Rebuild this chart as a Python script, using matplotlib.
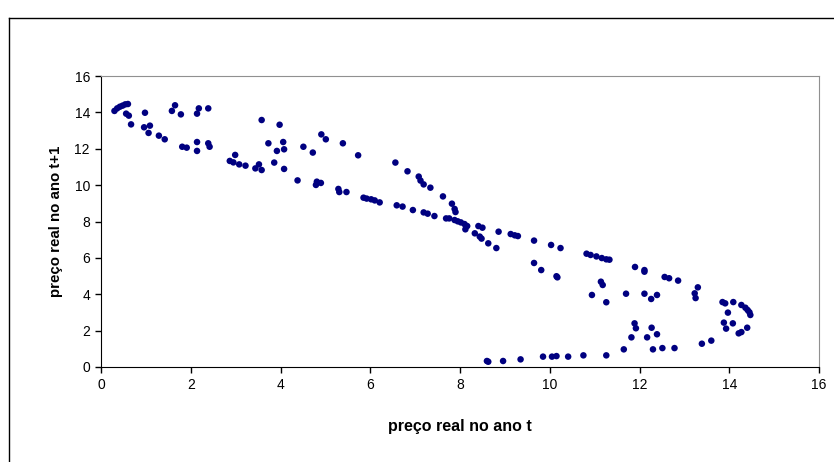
import matplotlib.pyplot as plt
from matplotlib.lines import Line2D

# values
preco_t = [
    0.30, 0.36, 0.42, 0.48, 0.54, 0.60, 0.56, 0.62, 0.67, 0.98, 0.96, 1.09, 1.06, 1.29, 1.42,
    1.58, 1.65, 1.78, 1.81, 1.91, 2.14, 2.18, 2.39, 2.14, 2.14, 2.39, 2.42,
    2.87, 2.95, 2.99, 3.08, 3.22, 3.44, 3.52, 3.58, 3.58, 3.73, 3.86, 3.92, 3.98, 4.06, 4.08, 4.08,
    4.38, 4.51, 4.72, 4.79, 4.81, 4.90, 4.91, 5.01, 5.29, 5.31, 5.39, 5.47, 5.73,
    5.85, 5.92, 6.02, 6.10, 6.21, 6.56, 6.59, 6.72, 6.83, 6.95, 7.08, 7.12, 7.19, 7.19, 7.28, 7.34,
    7.43, 7.62, 7.69, 7.76, 7.82, 7.88, 7.90, 7.88, 7.95, 8.02, 8.10, 8.16, 8.12,
    8.41, 8.50, 8.33, 8.44, 8.48, 8.63, 8.81, 8.86, 9.13, 9.22, 9.29, 9.65, 10.03, 10.24,
    9.65, 9.81, 10.15, 10.17, 10.82, 10.91, 11.04, 11.16, 11.26, 11.33, 11.14, 11.18, 10.94, 11.26,
    11.90, 12.11, 12.11, 12.56, 12.66, 12.86, 11.70, 12.11, 12.26, 12.39, 13.23, 13.25, 13.30,
    13.85, 13.91, 14.09, 13.97, 14.27, 14.36, 14.41, 14.45, 14.47, 13.88, 14.08, 13.93, 14.40,
    14.21, 14.27, 11.89, 11.92, 12.27, 12.39, 11.82, 12.17, 11.65, 12.30, 12.51, 12.78,
    13.39, 13.60, 11.26, 10.75, 10.41, 10.15, 10.05, 9.85, 9.35, 8.96, 8.60, 8.63,
]
preco_t1 = [
    14.08, 14.22, 14.31, 14.37, 14.44, 14.46, 13.93, 13.82, 13.34, 13.98, 13.18, 13.27, 12.87, 12.72, 12.52,
    14.08, 14.39, 13.89, 12.11, 12.06, 13.93, 14.22, 14.22, 12.37, 11.88, 12.30, 12.11,
    11.33, 11.25, 11.66, 11.14, 11.07, 10.92, 11.14, 10.83, 13.58, 12.30, 11.24, 11.88, 13.32, 12.37, 11.97, 10.89,
    10.26, 12.11, 11.79, 10.01, 10.19, 10.12, 12.79, 12.52, 9.79, 9.62, 12.30, 9.62, 11.64,
    9.31, 9.26, 9.22, 9.16, 9.05, 11.24, 8.89, 8.82, 10.76, 8.63, 10.47, 10.25, 10.04, 8.50, 8.43, 9.86,
    8.30, 9.38, 8.17, 8.17, 8.98, 8.69, 8.52, 8.08, 8.01, 7.95, 7.86, 7.75, 7.57,
    7.75, 7.66, 7.35, 7.17, 7.06, 6.80, 6.54, 7.44, 7.31, 7.24, 7.20, 6.95, 6.71, 6.54,
    5.72, 5.33, 4.99, 4.93, 6.23, 6.16, 6.08, 5.99, 5.92, 5.90, 4.69, 4.51, 3.96, 3.56,
    5.50, 5.33, 5.24, 4.95, 4.88, 4.75, 4.03, 4.03, 3.74, 3.96, 4.05, 3.79, 4.38,
    3.57, 3.50, 3.57, 2.99, 3.41, 3.26, 3.13, 3.01, 2.86, 2.44, 2.40, 2.11, 2.16,
    1.85, 1.92, 2.40, 2.13, 2.16, 1.80, 1.63, 1.63, 0.97, 0.97, 1.04, 1.04,
    1.28, 1.45, 0.64, 0.64, 0.57, 0.60, 0.57, 0.57, 0.42, 0.33, 0.33, 0.29,
]

plt.rcParams['font.family'] = ['Liberation Sans', 'DejaVu Sans']

fig = plt.figure(figsize=(8.34, 4.62), dpi=100)
ax = fig.add_axes([101 / 834, 95 / 462, 718 / 834, 291 / 462])

ax.scatter(preco_t, preco_t1, s=22, color='#000080', edgecolors='none', zorder=3)

ax.set_xlim(0, 16)
ax.set_ylim(0, 16)
ax.set_xticks(range(0, 17, 2))
ax.set_yticks(range(0, 17, 2))
ax.tick_params(direction='out', length=4, width=1, labelsize=10, pad=4)

for side in ['top', 'right']:
    ax.spines[side].set_color('#909090')
for side in ['left', 'bottom']:
    ax.spines[side].set_color('black')

ax.set_xlabel('preço real no ano t', fontsize=11.5, fontweight='bold', labelpad=19)
ax.set_ylabel('preço real no ano t+1', fontsize=10.8, fontweight='bold', labelpad=8)

# outer chart frame (runs off the right and bottom edges)
fig.add_artist(Line2D([9 / 834, 9 / 834], [0, 1 - 18 / 462], transform=fig.transFigure,
                      color='black', lw=1))
fig.add_artist(Line2D([9 / 834, 1], [1 - 18 / 462, 1 - 18 / 462], transform=fig.transFigure,
                      color='black', lw=1))

fig.savefig('out.png', dpi=100)
